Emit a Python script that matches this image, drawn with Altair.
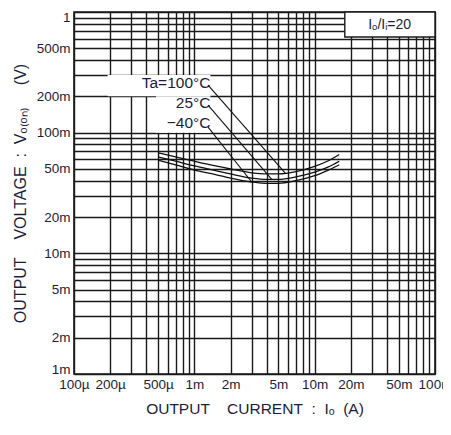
import altair as alt
import pandas as pd

# ---- data ----
io_ma = [0.5, 0.7, 1.0, 1.5, 2.0, 3.0, 4.0, 5.0, 7.0, 10.0, 13.0, 16.0]        # output current (mA)
v_100 = [68, 63, 58, 53, 50, 46.5, 45.5, 45.5, 47.5, 52.5, 58.5, 66]        # Ta=100°C (mV)
v_25 = [63, 58, 53, 48.5, 45.5, 42, 41, 41, 43, 47, 52, 58]                 # Ta=25°C (mV)
v_m40 = [59, 54, 49, 45, 42, 39, 38, 38, 40, 44, 49, 54]                    # Ta=-40°C (mV)

x_tick_vals = [1e-4, 2e-4, 5e-4, 1e-3, 2e-3, 5e-3, 1e-2, 2e-2, 5e-2, 1e-1]
x_tick_text = ["100µ", "200µ", "500µ", "1m", "2m", "5m", "10m", "20m", "50m", "100m"]
y_tick_vals = [1e-3, 2e-3, 5e-3, 1e-2, 2e-2, 5e-2, 1e-1, 2e-1, 5e-1, 1.0]
y_tick_text = ["1m", "2m", "5m", "10m", "20m", "50m", "100m", "200m", "500m", "1"]

NB = "\u00a0"
x_title = "OUTPUT" + NB * 4 + "CURRENT" + NB * 2 + ":" + NB * 2 + "Iₒ" + NB * 2 + "(A)"
y_title = "OUTPUT" + NB * 4 + "VOLTAGE" + NB * 2 + ":" + NB * 2 + "Vₒ₍ₒₙ₎" + NB * 5 + "(V)"

# annotations (data coordinates)
lab_text = ["Ta=100°C", "25°C", "−40°C"]
lab_x = [1.36e-3, 1.36e-3, 1.36e-3]
lab_y = [0.258, 0.176, 0.120]
lead_x1 = [1.30e-3, 1.30e-3, 1.30e-3]
lead_y1 = [0.248, 0.169, 0.111]
lead_x2 = [5.7e-3, 4.4e-3, 3.0e-3]
lead_y2 = [0.0462, 0.0410, 0.0390]

mask_x1 = [1.9e-4, 4.8e-4]
mask_x2 = [1.36e-3, 1.36e-3]
mask_y1 = [0.3, 0.2]
mask_y2 = [0.2, 0.1]

box_x1, box_x2, box_y1, box_y2 = [1.78e-2], [1e-1], [0.62], [1.0]
box_text = ["Iₒ/Iᵢ=20"]
box_tx, box_ty = [4.2e-2], [0.785]

# ---- grid values ----
def grid(lo_exp, hi_exp):
    vals = []
    for e in range(lo_exp, hi_exp):
        for k in range(1, 10):
            vals.append(round(k * 10.0 ** e, 12))
    vals.append(round(10.0 ** hi_exp, 12))
    return vals

x_grid = grid(-4, -1)
y_grid = grid(-3, 0)

def label_expr(vals, texts):
    expr = "''"
    for v, t in zip(vals[::-1], texts[::-1]):
        expr = f"datum.value == {round(v, 12)!r} ? '{t}' : " + expr
    return expr

TXT = "#1c1c3c"
FONT = "Liberation Sans"

x_axis = alt.Axis(values=x_grid, labelExpr=label_expr(x_tick_vals, x_tick_text),
                  grid=True, ticks=False, domain=False, labelOverlap=False, labelFlush=False,
                  title=x_title, labelPadding=3, titlePadding=11,
                  titleFontSize=15.5)
y_axis = alt.Axis(values=y_grid, labelExpr=label_expr(y_tick_vals, y_tick_text),
                  grid=True, ticks=False, domain=False, labelOverlap=False, labelFlush=True,
                  labelFlushOffset=2,
                  title=y_title, labelPadding=4, titlePadding=8,
                  titleFontSize=16)

xs = alt.Scale(type="log", domain=[1e-4, 1e-1], nice=False)
ys = alt.Scale(type="log", domain=[1e-3, 1.0], nice=False)

def X(f):
    return alt.X(f, type="quantitative", scale=xs, axis=x_axis)

def Y(f):
    return alt.Y(f, type="quantitative", scale=ys, axis=y_axis)

rows = []
for name, vals in [("100", v_100), ("25", v_25), ("-40", v_m40)]:
    for i, v in zip(io_ma, vals):
        rows.append({"I": i / 1000.0, "V": v / 1000.0, "Ta": name})
curves_df = pd.DataFrame(rows)

mask_df = pd.DataFrame({"x1": mask_x1, "x2": mask_x2, "y1": mask_y1, "y2": mask_y2})
box_df = pd.DataFrame({"x1": box_x1, "x2": box_x2, "y1": box_y1, "y2": box_y2})
boxt_df = pd.DataFrame({"x": box_tx, "y": box_ty, "t": box_text})
lab_df = pd.DataFrame({"x": lab_x, "y": lab_y, "t": lab_text})
lead_df = pd.DataFrame({"x1": lead_x1, "y1": lead_y1, "x2": lead_x2, "y2": lead_y2})

mask = alt.Chart(mask_df).mark_rect(color="white").encode(
    x=X("x1"), x2="x2", y=Y("y1"), y2="y2")
box = alt.Chart(box_df).mark_rect(fill="white", stroke="#1a1a1a", strokeWidth=1.4).encode(
    x=X("x1"), x2="x2", y=Y("y1"), y2="y2")
boxt = alt.Chart(boxt_df).mark_text(font=FONT, fontSize=14, color=TXT).encode(
    x=X("x"), y=Y("y"), text="t")
curves = alt.Chart(curves_df).mark_line(color="#111", strokeWidth=1.3, interpolate="monotone").encode(
    x=X("I"), y=Y("V"), detail="Ta:N")
leads = alt.Chart(lead_df).mark_rule(color="#111", strokeWidth=1.1).encode(
    x=X("x1"), y=Y("y1"), x2="x2", y2="y2")
labs = alt.Chart(lab_df).mark_text(font=FONT, fontSize=15.5, color=TXT, align="right",
                                   baseline="middle").encode(
    x=X("x"), y=Y("y"), text="t")

chart = alt.layer(mask, box, boxt, curves, leads, labs).properties(
    width=361, height=362,
    autosize=alt.AutoSizeParams(type="none"),
    padding={"left": 66, "top": 4, "right": 8, "bottom": 50},
).configure_view(stroke="#1a1a1a", strokeWidth=1.6).configure_axis(
    gridColor="#1a1a1a", gridOpacity=1, gridWidth=1.4,
    labelFont=FONT, labelFontSize=13.5, labelColor=TXT,
    titleFont=FONT, titleFontWeight="normal", titleColor=TXT,
)

chart.save("out.html", embed_options={"renderer": "svg", "actions": False})
